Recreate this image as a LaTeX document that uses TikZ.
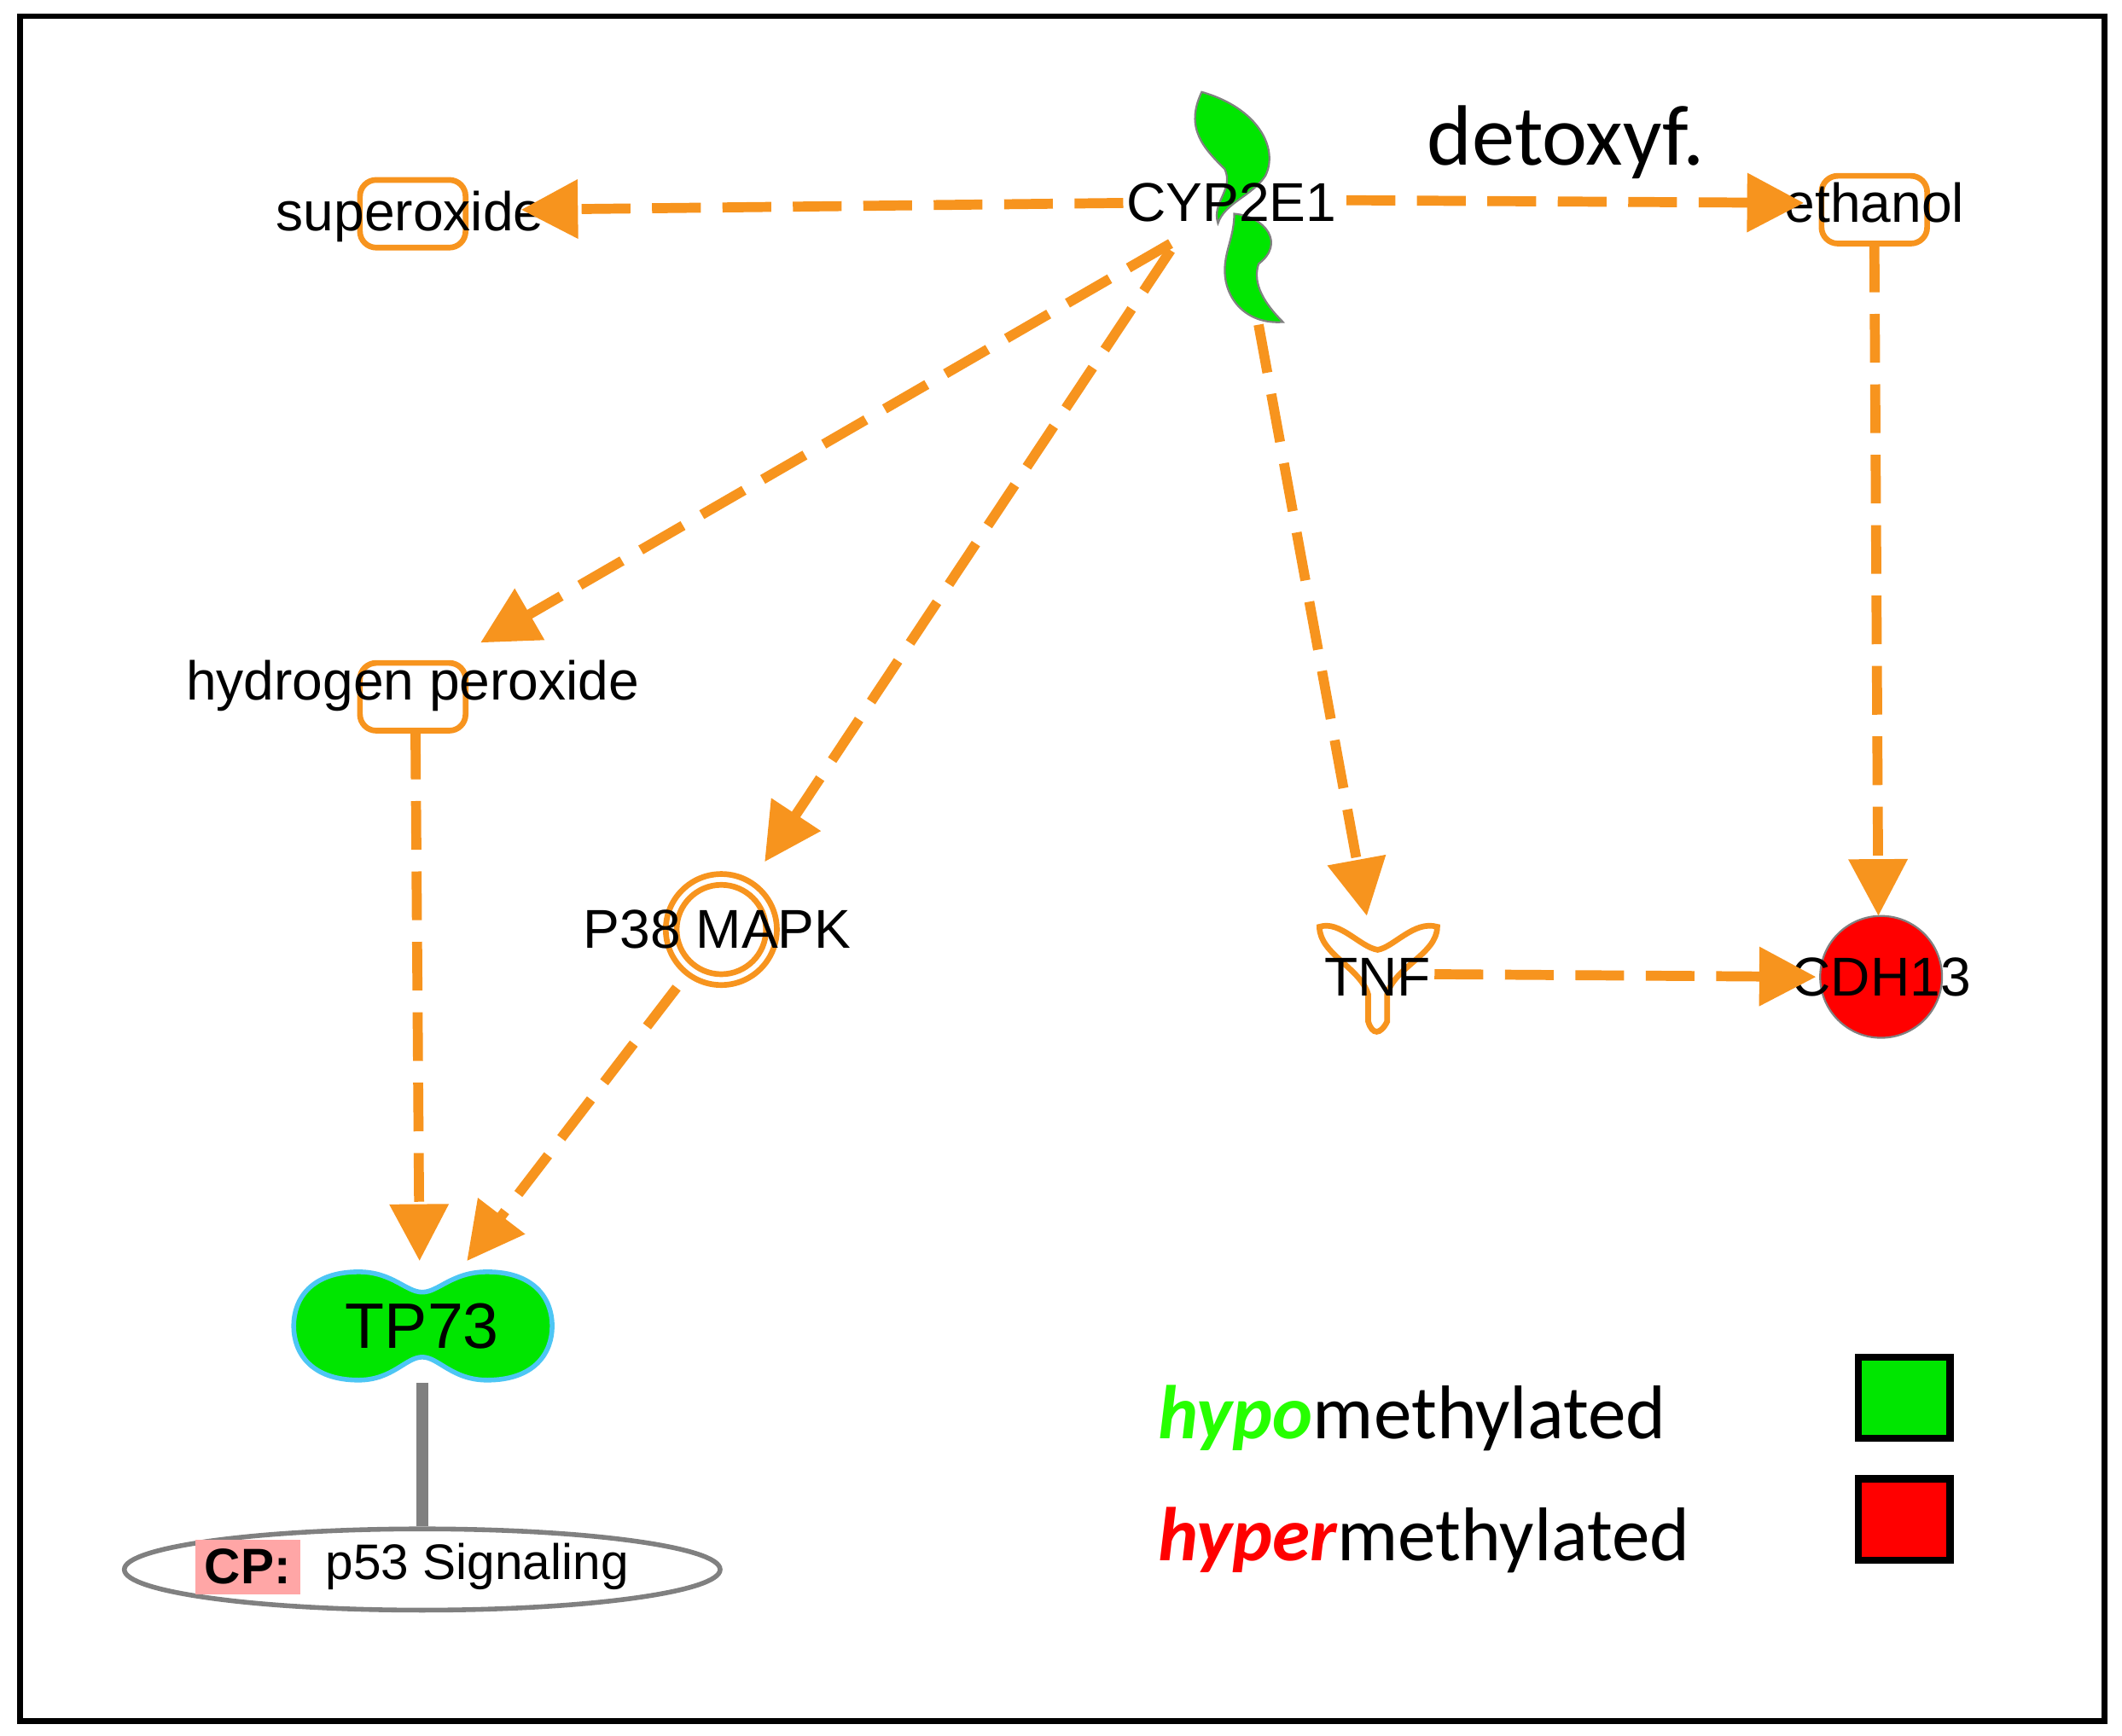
\documentclass[tikz,border=0pt]{standalone}
\usepackage{fontspec}
\setmainfont{Liberation Sans}
\newfontfamily\leg{Carlito}
\usetikzlibrary{arrows.meta,shapes.geometric}
\definecolor{org}{RGB}{247,148,30}
\definecolor{gr}{RGB}{0,230,0}
\tikzset{
 x=0.01cm,y=-0.01cm,
 lab/.style={font=\fontsize{11.5}{12}\selectfont,inner sep=0pt},
 orr/.style={draw=org,line width=1.2pt,rounded corners=0.12cm,minimum width=0.78cm,minimum height=0.5cm},
 con/.style={draw=org,line width=2.1pt,dash pattern=on 0.36cm off 0.16cm,-{Triangle[length=0.42cm,width=0.42cm]}},
}
\begin{document}
\begin{tikzpicture}
\useasboundingbox (0,0) rectangle (1568,1283);
\draw[line width=1.2pt] (15,12) rectangle (1555,1272);
% shapes
\node[orr] (sup) at (305,158) {};
\node[orr] (eth) at (1385,155) {};
\node[orr] (hp) at (305,515) {};
\node[circle,draw=org,line width=1.2pt,minimum size=0.82cm] (p38) at (533,687) {};
\node[circle,draw=org,line width=1.2pt,minimum size=0.66cm] at (533,687) {};
\node[circle,fill=red,draw=gray,minimum size=0.9cm] (cdh) at (1390,722) {};
\coordinate (tnf) at (1018,720);
\draw[org,line width=1.2pt,fill=white] (975,685) .. controls (990,680) and (1005,700) .. (1018,702) .. controls (1030,700) and (1045,680) .. (1062,685) .. controls (1062,705) and (1030,715) .. (1025,735) -- (1025,755) .. controls (1020,765) and (1014,765) .. (1011,755) -- (1011,735) .. controls (1005,715) and (975,705) .. (975,685) -- cycle;
% CYP2E1
\draw[gray,fill=gr] (888,68) .. controls (930,80) and (945,110) .. (935,130) .. controls (925,145) and (905,150) .. (900,165) .. controls (895,150) and (912,140) .. (905,125) .. controls (890,110) and (875,95) .. (888,68) -- cycle;
\draw[gray,fill=gr] (912,158) .. controls (935,160) and (950,180) .. (930,195) .. controls (925,210) and (935,225) .. (948,238) .. controls (920,240) and (905,220) .. (905,200) .. controls (905,185) and (912,175) .. (912,158) -- cycle;
\coordinate (cyp) at (910,150);
% TP73
\draw[cyan!70,line width=1pt,fill=gr] (265,940) .. controls (290,940) and (300,955) .. (312,955) .. controls (324,955) and (334,940) .. (360,940) .. controls (395,940) and (408,960) .. (408,980) .. controls (408,1000) and (395,1020) .. (360,1020) .. controls (334,1020) and (324,1003) .. (312,1003) .. controls (300,1003) and (290,1020) .. (265,1020) .. controls (230,1020) and (217,1000) .. (217,980) .. controls (217,960) and (230,940) .. (265,940) -- cycle;
\coordinate (tp) at (312,980);
\node[lab,font=\fontsize{13.5}{14}\selectfont] at (312,980) {TP73};
\node[ellipse,draw=gray,line width=1pt,minimum width=4.4cm,minimum height=0.6cm] (cp) at (312,1160) {};
\node[fill=red!35,inner sep=2pt,font=\bfseries\fontsize{10.5}{11}\selectfont] at (183,1158) {CP:};
\node[font=\fontsize{10.5}{11}\selectfont,anchor=west,inner sep=0pt] at (240,1158) {p53 Signaling};
\draw[gray,line width=2.6pt] (312,1022) -- (cp.north);
% labels
\node[lab] at (303,160) {superoxide};
\node[lab] at (1385,150) {ethanol};
\node[lab] at (305,507) {hydrogen peroxide};
\node[lab] at (530,687) {P38 MAPK};
\node[lab] at (1018,722) {TNF};
\node[lab] at (1390,722) {CDH13};
\node[lab] at (910,150) {CYP2E1};
\node[font=\leg\fontsize{18}{20}\selectfont,inner sep=0pt] at (1157,105) {detoxyf.};
% connectors
\coordinate (a1) at (830,150); \coordinate (b1) at (385,155);
\coordinate (a2) at (995,148); \coordinate (b2) at (1333,150);
\coordinate (a3) at (865,180); \coordinate (b3) at (355,475);
\coordinate (a4) at (865,185); \coordinate (b4) at (565,637);
\coordinate (a5) at (930,240); \coordinate (b5) at (1010,677);
\coordinate (a6) at (1385,180); \coordinate (b6) at (1388,677);
\coordinate (a7) at (1060,720); \coordinate (b7) at (1342,722);
\coordinate (a8) at (307,540); \coordinate (b8) at (310,932);
\coordinate (a9) at (500,730); \coordinate (b9) at (345,932);
\foreach \i in {1,...,9} \draw[con] (a\i) -- (b\i);
% legend
\node[font=\leg\fontsize{16}{18}\selectfont,anchor=west,inner sep=0pt] at (855,1048) {\textcolor{green!80!lime}{\bfseries\itshape hypo}methylated};
\node[font=\leg\fontsize{16}{18}\selectfont,anchor=west,inner sep=0pt] at (855,1138) {\textcolor{red}{\bfseries\itshape hyper}methylated};
\draw[line width=1.5pt,fill=gr] (1373,1003) rectangle (1441,1063);
\draw[line width=1.5pt,fill=red] (1373,1093) rectangle (1441,1153);
\end{tikzpicture}
\end{document}
